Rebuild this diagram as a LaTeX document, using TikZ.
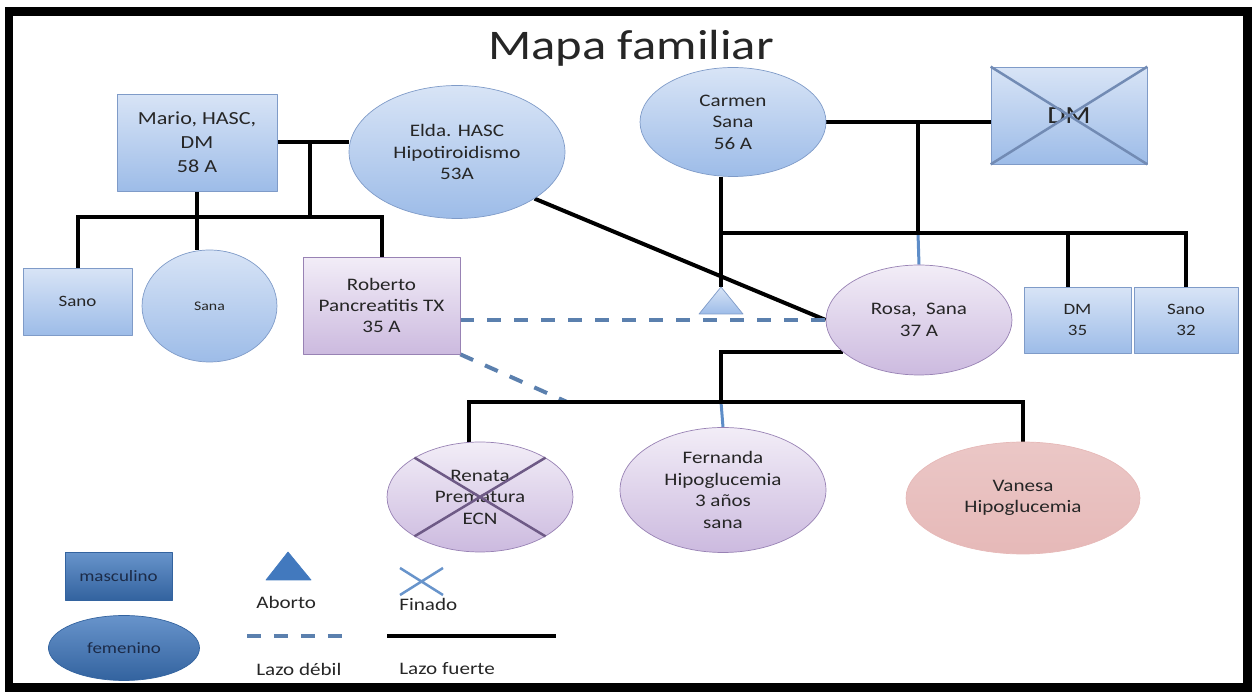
\documentclass[tikz,border=0pt]{standalone}
\usepackage{fontspec}
\setmainfont{Carlito}[FakeStretch=1.2]
\usetikzlibrary{shapes.geometric,backgrounds}

\definecolor{azulclaro}{HTML}{D8E4F6}
\definecolor{azulmedio}{HTML}{9DBCE8}
\definecolor{azulborde}{HTML}{7F9BC8}
\definecolor{lilaclaro}{HTML}{F2EDF7}
\definecolor{lilamedio}{HTML}{CCBADF}
\definecolor{lilaborde}{HTML}{9882B4}
\definecolor{lilacruz}{HTML}{6E5A86}
\definecolor{rosado}{HTML}{E6B9B8}
\definecolor{azullazo}{HTML}{5B80AE}
\definecolor{azulleyenda}{HTML}{4279BE}
\definecolor{azulleyendaosc}{HTML}{33639F}
\definecolor{texto}{HTML}{262626}
\definecolor{textoleyenda}{HTML}{1C2B48}

\tikzset{
  hombre/.style = {rectangle, draw = azulborde, top color = azulclaro, bottom color = azulmedio, align = center, inner sep = 1pt, text = texto},
  mujer/.style = {ellipse, draw = azulborde, top color = azulclaro, bottom color = azulmedio, align = center, inner sep = 0pt, text = texto},
  hombrelila/.style = {hombre, draw = lilaborde, top color = lilaclaro, bottom color = lilamedio},
  mujerlila/.style = {mujer, draw = lilaborde, top color = lilaclaro, bottom color = lilamedio},
  fuerte/.style = {line width = 0.08cm, black},
  debil/.style = {line width = 0.08cm, azullazo, dash pattern = on 0.28cm off 0.26cm},
  enlace/.style = {line width = 0.06cm, azulleyenda!85},
  cruz/.style = {line width = 0.05cm},
  letra/.style = {font = \fontsize{10}{12.2}\selectfont},
  chica/.style = {font = \fontsize{9}{11.5}\selectfont},
  leyenda/.style = {anchor = west, inner sep = 0pt, text = texto, font = \fontsize{10}{12}\selectfont},
}

\begin{document}
\begin{tikzpicture}[x = 0.02cm, y = -0.02cm, line join = round]
\useasboundingbox (0,0) rectangle (1252,692);
\draw [line width = 0.18cm, line join = miter] (9,11.5) rectangle (1247.5,687.5);

\node [anchor = base, text = texto, font = \fontsize{24}{28}\selectfont] (titulo) at (631,60) {Mapa familiar};

\node [hombre, font = \fontsize{10.5}{13.6}\selectfont, minimum width = 3.2cm, minimum height = 1.94cm] (mario) at (197,142.5) {Mario, HASC,\\DM\\58 A};
\node [mujer, letra, minimum width = 4.32cm, minimum height = 2.66cm] (elda) at (457,152) {Elda. HASC\\Hipotiroidismo\\53A};
\node [mujer, letra, minimum width = 3.72cm, minimum height = 2.18cm] (carmen) at (733,122) {Carmen\\Sana\\56 A};
\node [hombre, font = \fontsize{14}{16}\selectfont, minimum width = 3.12cm, minimum height = 1.94cm] (dmabuelo) at (1069,115.5) {DM};

\node [hombre, chica, minimum width = 2.18cm, minimum height = 1.34cm] (sano) at (77.5,301.5) {Sano};
\node [mujer, font = \fontsize{7.5}{9}\selectfont, minimum width = 2.7cm, minimum height = 2.24cm] (sana) at (209.5,306) {Sana};
\node [hombrelila, letra, minimum width = 3.14cm, minimum height = 1.94cm] (roberto) at (381.5,305.5) {Roberto\\Pancreatitis TX\\35 A};
\node [mujerlila, letra, minimum width = 3.72cm, minimum height = 2.2cm] (rosa) at (919,320) {Rosa,\ \ Sana\\37 A};
\node [hombre, chica, minimum width = 2.14cm, minimum height = 1.32cm] (dmhijo) at (1077.5,320) {DM\\35};
\node [hombre, chica, minimum width = 2.08cm, minimum height = 1.32cm] (sanohijo) at (1186,320) {Sano\\32};

\node [mujerlila, letra, minimum width = 3.72cm, minimum height = 2.2cm] (renata) at (480,497) {Renata\\Prematura\\ECN};
\node [mujerlila, letra, minimum width = 4.12cm, minimum height = 2.5cm] (fernanda) at (723,490) {Fernanda\\Hipoglucemia\\3 años\\sana};
\node [mujer, letra, draw = rosado, top color = rosado!80!white, bottom color = rosado, minimum width = 4.68cm, minimum height = 2.24cm] (vanesa) at (1023,498) {Vanesa\\Hipoglucemia};

\draw [cruz, azulborde!90!black] (dmabuelo.south west) -- (dmabuelo.north east) (dmabuelo.north west) -- (dmabuelo.south east);
\draw [cruz, lilacruz] (renata.149) -- (renata.-31) (renata.31) -- (renata.211);

\coordinate (aborto) at (721,287);
\draw [draw = azulborde, top color = azulclaro, bottom color = azulmedio] (aborto) -- ++(22,27) -- ++(-44,0) -- cycle;

\begin{pgfonlayer}{background}
\coordinate (hijos1) at (310,217);
\coordinate (hijos2) at (918,233);
\coordinate (hijos3) at (721,402);
\coordinate (finlazo) at (567,402);
\draw [fuerte] (mario.east) -- (mario.east -| elda.west);
\draw [fuerte] (hijos1 |- mario.east) -- (hijos1);
\draw [fuerte] (mario.south) -- (mario.south |- sana.north);
\draw [fuerte] (sano.north) |- (hijos1) -| (roberto.north);
\draw [fuerte] (carmen.east) -- (carmen.east -| dmabuelo.west);
\draw [fuerte] (hijos2 |- carmen.east) -- (hijos2);
\draw [enlace] (hijos2) -- (rosa.north);
\draw [fuerte] (aborto |- carmen.south) -- (aborto);
\draw [fuerte] (aborto |- hijos2) -| (sanohijo.north);
\draw [fuerte] ([xshift = -0.19cm]dmhijo.north) -- ([xshift = -0.19cm]dmhijo.north |- hijos2);
\draw [fuerte] (elda.-31) -- (rosa.west);
\draw [debil] (roberto.east |- rosa.west) -- (rosa.west);
\draw [debil] (roberto.south east) -- (finlazo);
\draw [fuerte] (rosa.203) -| (hijos3);
\draw [enlace] (hijos3) -- (fernanda.north);
\draw [fuerte] ([xshift = -0.22cm]renata.north) |- (hijos3) -| (vanesa.north);
\end{pgfonlayer}

\node [rectangle, draw = azulleyendaosc, top color = azulleyenda!80!white, bottom color = azulleyendaosc, text = textoleyenda, chica, minimum width = 2.14cm, minimum height = 0.96cm] (masculino) at (118.5,576) {masculino};
\node [ellipse, draw = azulleyendaosc, top color = azulleyenda!80!white, bottom color = azulleyendaosc, text = textoleyenda, chica, minimum width = 3.02cm, minimum height = 1.3cm] (femenino) at (124,648) {femenino};
\draw [fill = azulleyenda, draw = azulleyenda] (288,552) -- (311,580) -- (266,580) -- cycle;
\node [leyenda] (abortoleyenda) at (256,602) {Aborto};
\draw [cruz, azulleyenda!80] (400,568) -- (443,595) (443,568) -- (400,595);
\node [leyenda] (finado) at (399,604) {Finado};
\coordinate (debil1) at (247,636);
\coordinate (debil2) at (343,636);
\coordinate (fuerte1) at (387,636);
\coordinate (fuerte2) at (556,636);
\draw [debil] (debil1) -- (debil2);
\draw [fuerte] (fuerte1) -- (fuerte2);
\node [leyenda] (lazodebil) at (256,669) {Lazo débil};
\node [leyenda] (lazofuerte) at (399,669) {Lazo fuerte};
\end{tikzpicture}
\end{document}
